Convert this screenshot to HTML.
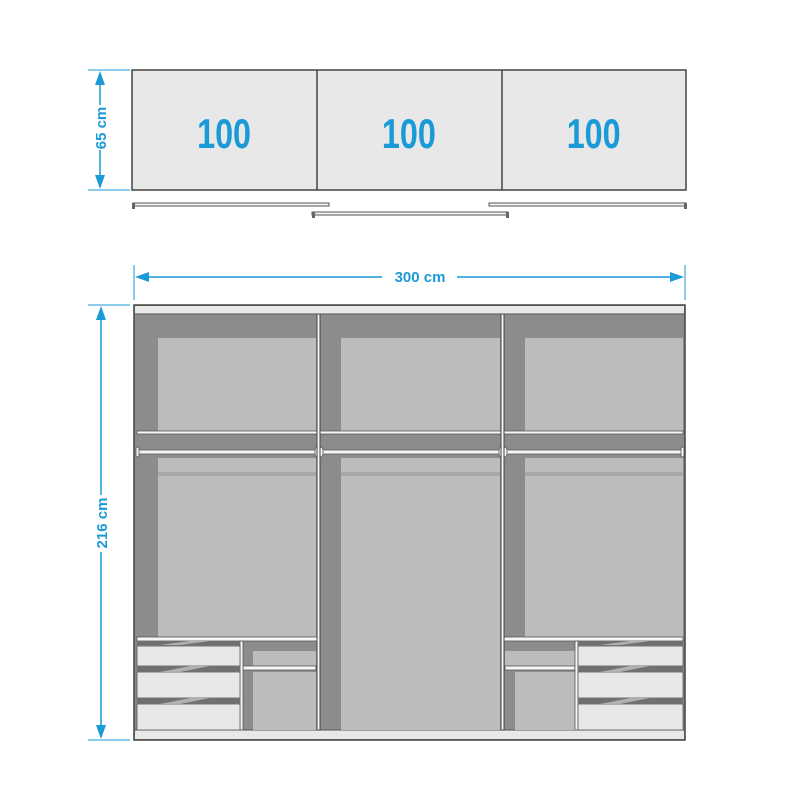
<!DOCTYPE html>
<html><head><meta charset="utf-8"><style>
html,body{margin:0;padding:0;background:#fff;}
svg{display:block;}
text{font-family:"Liberation Sans",sans-serif;fill:#1a9ad6;}
</style></head><body>
<svg width="800" height="800" viewBox="0 0 800 800" xmlns="http://www.w3.org/2000/svg">
<!-- top doors -->
<rect x="132" y="70" width="554" height="120" fill="#e8e8e8" stroke="#444" stroke-width="1.5"/>
<line x1="317" y1="70" x2="317" y2="190" stroke="#444" stroke-width="1.5"/>
<line x1="502" y1="70" x2="502" y2="190" stroke="#444" stroke-width="1.5"/>
<g font-size="42" font-weight="bold" text-anchor="middle" transform="scale(0.77,1)">
<text x="291" y="148">100</text><text x="531" y="148">100</text><text x="771" y="148">100</text>
</g>
<!-- rails -->
<g fill="#f4f4f4" stroke="#555" stroke-width="1">
<rect x="133" y="203" width="196" height="3"/>
<rect x="312" y="212" width="196" height="3"/>
<rect x="489" y="203" width="197" height="3"/>
</g>
<g fill="#666">
<rect x="132" y="203" width="3" height="6"/>
<rect x="312" y="212" width="3" height="6"/>
<rect x="506" y="212" width="3" height="6"/>
<rect x="684" y="203" width="3" height="6"/>
</g>
<!-- dimensions -->
<g stroke="#1a9ad6" stroke-width="1.5" fill="#1a9ad6">
<line x1="88" y1="70" x2="130" y2="70" stroke-width="1"/>
<line x1="88" y1="190" x2="130" y2="190" stroke-width="1"/>
<line x1="100" y1="76" x2="100" y2="105"/>
<line x1="100" y1="150" x2="100" y2="184"/>
<polygon points="100,71 95,85 105,85" stroke="none"/>
<polygon points="100,189 95,175 105,175" stroke="none"/>

<line x1="134" y1="265" x2="134" y2="300" stroke-width="1"/>
<line x1="685" y1="265" x2="685" y2="300" stroke-width="1"/>
<line x1="140" y1="277" x2="382" y2="277"/>
<line x1="457" y1="277" x2="680" y2="277"/>
<polygon points="135,277 149,272 149,282" stroke="none"/>
<polygon points="684,277 670,272 670,282" stroke="none"/>

<line x1="88" y1="305" x2="130" y2="305" stroke-width="1"/>
<line x1="88" y1="740" x2="130" y2="740" stroke-width="1"/>
<line x1="101" y1="311" x2="101" y2="495"/>
<line x1="101" y1="552" x2="101" y2="734"/>
<polygon points="101,306 96,320 106,320" stroke="none"/>
<polygon points="101,739 96,725 106,725" stroke="none"/>
</g>
<g font-size="15" font-weight="600" text-anchor="middle">
<text x="0" y="0" transform="translate(106,128) rotate(-90)">65 cm</text>
<text x="420" y="282">300 cm</text>
<text x="0" y="0" transform="translate(107,523) rotate(-90)">216 cm</text>
</g>

<!-- wardrobe -->
<rect x="134" y="305" width="551" height="435" fill="#8c8c8c" stroke="#444" stroke-width="1.5"/>
<rect x="135" y="306" width="549" height="8" fill="#e8e8e8"/>
<line x1="134" y1="314" x2="685" y2="314" stroke="#555"/>
<rect x="135" y="730" width="549" height="9" fill="#e8e8e8"/>
<line x1="134" y1="730" x2="685" y2="730" stroke="#555"/>
<g fill="#bcbcbc">
<rect x="158" y="338" width="158" height="93"/>
<rect x="341" y="338" width="159" height="93"/>
<rect x="525" y="338" width="158" height="93"/>
<rect x="158" y="458" width="158" height="179"/>
<rect x="341" y="458" width="159" height="272"/>
<rect x="525" y="458" width="158" height="179"/>
</g>
<g fill="#a8a8a8">
<rect x="158" y="472" width="158" height="4"/>
<rect x="341" y="472" width="159" height="4"/>
<rect x="525" y="472" width="158" height="4"/>
</g>
<g fill="#f6f6f6" stroke="#555" stroke-width="0.8">
<rect x="137" y="431" width="546" height="3"/>
<rect x="137" y="637" width="180" height="4"/>
<rect x="502" y="637" width="181" height="4"/>
</g>
<g fill="#f4f4f4" stroke="#555" stroke-width="0.8">
<rect x="137" y="450" width="546" height="4" rx="1"/>
<rect x="136" y="447" width="3" height="10" rx="1.5"/>
<rect x="315" y="447" width="8" height="10" rx="3"/>
<rect x="499" y="447" width="8" height="10" rx="3"/>
<rect x="681" y="447" width="3" height="10" rx="1.5"/>
</g>
<g fill="#f6f6f6" stroke="#444" stroke-width="1">
<rect x="317" y="314" width="3" height="416"/>
<rect x="501" y="314" width="3" height="416"/>
</g>
<g fill="#bcbcbc">
<rect x="253" y="651" width="63" height="15"/>
<rect x="253" y="672" width="63" height="58"/>
<rect x="505" y="651" width="70" height="15"/>
<rect x="515" y="672" width="60" height="58"/>
</g>
<g fill="#f6f6f6" stroke="#555" stroke-width="0.8">
<rect x="243" y="666" width="73" height="4"/>
<rect x="505" y="666" width="70" height="4"/>
<rect x="240" y="641" width="3" height="89"/>
<rect x="575" y="641" width="3" height="89"/>
</g>
<g fill="#e8e8e8" stroke="#555" stroke-width="0.8">
<rect x="137" y="646" width="103" height="20"/>
<rect x="137" y="672" width="103" height="26"/>
<rect x="137" y="704" width="103" height="26"/>
<rect x="578" y="646" width="105" height="20"/>
<rect x="578" y="672" width="105" height="26"/>
<rect x="578" y="704" width="105" height="26"/>
</g>
<g fill="#707070">
<rect x="137" y="641" width="103" height="4"/>
<rect x="137" y="666" width="103" height="6"/>
<rect x="137" y="698" width="103" height="6"/>
<rect x="578" y="641" width="105" height="4"/>
<rect x="578" y="666" width="105" height="6"/>
<rect x="578" y="698" width="105" height="6"/>
</g>
<g fill="#b0b0b0">
<polygon points="160,645 190,641 210,641 180,645"/>
<polygon points="160,672 190,666 210,666 180,672"/>
<polygon points="160,704 190,698 210,698 180,704"/>
<polygon points="600,645 630,641 650,641 620,645"/>
<polygon points="600,672 630,666 650,666 620,672"/>
<polygon points="600,704 630,698 650,698 620,704"/>
</g>
</svg>
</body></html>
